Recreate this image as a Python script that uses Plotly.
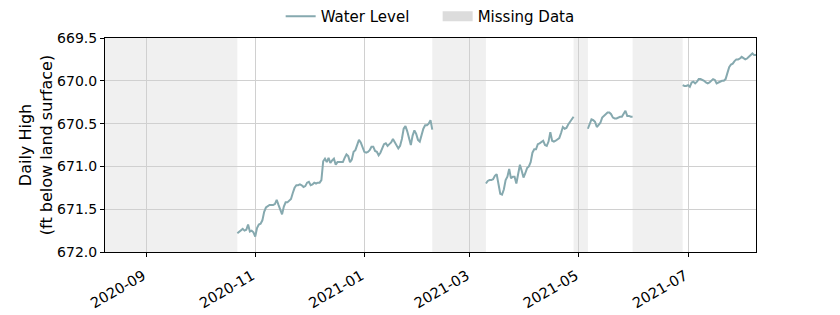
import pandas as pd
import plotly.graph_objects as go

# Daily high water level (ft below land surface), four continuous segments
seg1_start = "2020-10-22"
seg1_vals = [671.78, 671.76, 671.74, 671.73, 671.75, 671.74, 671.68, 671.76, 671.75, 671.77,
             671.82, 671.72, 671.68, 671.67, 671.63, 671.53, 671.48, 671.46, 671.45, 671.45,
             671.45, 671.44, 671.39, 671.45, 671.51, 671.56, 671.47, 671.42, 671.42, 671.40,
             671.38, 671.31, 671.25, 671.22, 671.22, 671.21, 671.22, 671.24, 671.23, 671.19,
             671.18, 671.22, 671.21, 671.19, 671.20, 671.19, 671.19, 671.16, 670.94, 670.91,
             670.95, 670.90, 670.96, 670.93, 670.91, 670.98, 670.95, 670.95, 670.95, 670.95,
             670.90, 670.86, 670.88, 670.95, 670.92, 670.83, 670.81, 670.76, 670.69, 670.72,
             670.77, 670.83, 670.84, 670.83, 670.81, 670.77, 670.77, 670.82, 670.83, 670.87,
             670.84, 670.79, 670.74, 670.73, 670.76, 670.74, 670.72, 670.68, 670.72, 670.75,
             670.79, 670.76, 670.68, 670.56, 670.53, 670.59, 670.67, 670.75, 670.64, 670.58,
             670.62, 670.69, 670.71, 670.62, 670.56, 670.52, 670.52, 670.50, 670.46, 670.57]

seg2_start = "2021-03-10"
seg2_vals = [671.20, 671.17, 671.16, 671.16, 671.15, 671.11, 671.09, 671.20, 671.32, 671.33,
             671.27, 671.16, 671.12, 671.03, 671.14, 671.12, 671.12, 671.20, 671.08, 670.98,
             671.05, 671.13, 671.08, 671.02, 671.00, 670.95, 670.84, 670.80, 670.80, 670.74,
             670.73, 670.71, 670.70, 670.75, 670.76, 670.71, 670.60, 670.70, 670.71, 670.70,
             670.68, 670.67, 670.61, 670.54, 670.56, 670.55, 670.51, 670.48, 670.44, 670.42]

seg3_start = "2021-05-06"
seg3_vals = [670.56, 670.51, 670.45, 670.46, 670.48, 670.54, 670.52, 670.49, 670.43, 670.41,
             670.38, 670.37, 670.37, 670.39, 670.43, 670.44, 670.44, 670.43, 670.42, 670.42,
             670.39, 670.35, 670.41, 670.41, 670.42, 670.42]

seg4_start = "2021-06-28"
seg4_vals = [670.05, 670.06, 670.06, 670.05, 670.07, 670.02, 670.01, 670.03, 670.01, 669.98,
             669.98, 669.99, 670.00, 670.02, 670.03, 670.02, 670.00, 669.98, 669.99, 670.03,
             670.02, 670.01, 670.00, 670.00, 669.98, 669.91, 669.84, 669.81, 669.80, 669.77,
             669.75, 669.75, 669.74, 669.72, 669.74, 669.75, 669.74, 669.72, 669.70, 669.68,
             669.70, 669.70]

segments = [(seg1_start, seg1_vals), (seg2_start, seg2_vals),
            (seg3_start, seg3_vals), (seg4_start, seg4_vals)]

missing_starts = ["2020-08-09", "2021-02-08", "2021-04-28", "2021-05-31"]
missing_ends = ["2020-10-22", "2021-03-10", "2021-05-06", "2021-06-28"]

x_range = ["2020-08-09", "2021-08-08"]
y_range = [672.0, 669.5]
x_ticks = ["2020-09-01", "2020-11-01", "2021-01-01", "2021-03-01", "2021-05-01", "2021-07-01"]
x_tick_text = ["2020-09", "2020-11", "2021-01", "2021-03", "2021-05", "2021-07"]
y_ticks = [669.5, 670.0, 670.5, 671.0, 671.5, 672.0]

LINE_COLOR = "#86a9af"
SHADE_COLOR = "#f0f0f0"
LEGEND_SHADE = "#dcdcdc"
FONT = "DejaVu Sans"

# Build one series with gaps between segments
xs, ys = [], []
for start, vals in segments:
    dates = pd.date_range(start, periods=len(vals), freq="D")
    xs.extend(list(dates))
    ys.extend(vals)
    xs.append(None)
    ys.append(None)

fig = go.Figure()
fig.add_trace(go.Scatter(x=xs, y=ys, mode="lines", name="Water Level",
                         line=dict(color=LINE_COLOR, width=2), connectgaps=False))
# Legend entry for missing data shading
fig.add_trace(go.Scatter(x=[None], y=[None], mode="lines", name="Missing Data",
                         line=dict(color=LEGEND_SHADE, width=10)))

for s, e in zip(missing_starts, missing_ends):
    fig.add_shape(type="rect", xref="x", yref="paper", x0=s, x1=e, y0=0, y1=1,
                  fillcolor=SHADE_COLOR, line=dict(width=0), layer="below")

fig.update_layout(
    width=840, height=315,
    margin=dict(l=105, r=84, t=38, b=63, autoexpand=False),
    paper_bgcolor="white", plot_bgcolor="white",
    font=dict(family=FONT, size=14, color="black"),
    showlegend=True,
    legend=dict(orientation="h", x=0.511, xanchor="center", xref="paper",
                y=1.0, yanchor="top", yref="container", entrywidth=112,
                font=dict(size=15), bgcolor="rgba(0,0,0,0)", itemwidth=30),
)
fig.update_xaxes(
    range=x_range, tickvals=x_ticks, ticktext=x_tick_text, tickangle=-30,
    showgrid=True, gridcolor="#d0d0d0", gridwidth=1,
    showline=True, linecolor="black", linewidth=1, mirror=True,
    ticks="outside", ticklen=4, tickcolor="black", zeroline=False,
    tickfont=dict(size=14.5), automargin=False,
    ticklabelstandoff=5, ticklabelshift=-3,
)
fig.update_yaxes(
    range=y_range, tickvals=y_ticks, tickformat=".1f",
    showgrid=True, gridcolor="#d0d0d0", gridwidth=1,
    showline=True, linecolor="black", linewidth=1, mirror=True,
    ticks="outside", ticklen=4, tickcolor="black", zeroline=False,
    title=dict(text="Daily High<br>(ft below land surface)", font=dict(size=16), standoff=0),
    tickfont=dict(size=14), automargin=False,
)

fig.write_html("out.html")
